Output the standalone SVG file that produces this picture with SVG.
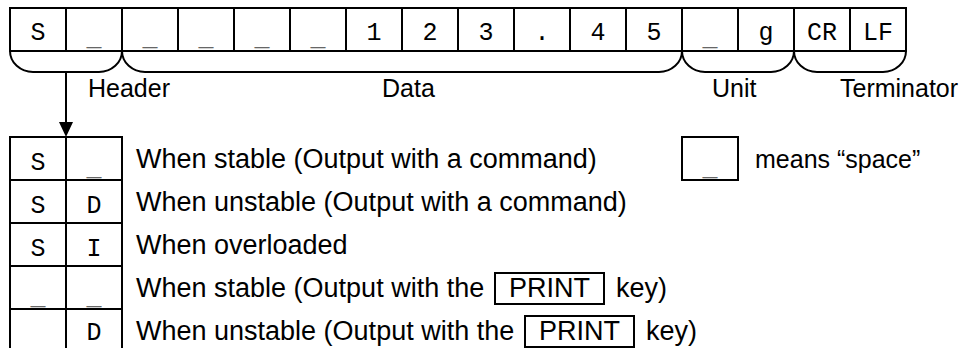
<svg xmlns="http://www.w3.org/2000/svg" width="965" height="348" viewBox="0 0 965 348">
<defs>
<style>
.ln{fill:none;stroke:#000;stroke-width:2}
.m{font-family:"Liberation Mono","Courier New",monospace;font-size:25px;fill:#000;text-anchor:middle}
.u{fill:#666}
.l{font-family:"Liberation Sans",Arial,sans-serif;font-size:25px;fill:#000}
.t{font-family:"Liberation Sans",Arial,sans-serif;font-size:27px;fill:#000}
</style>
</defs>
<rect width="965" height="348" fill="#fff"/>
<g id="format-row">
<rect class="ln" x="10" y="8" width="896" height="43"/>
<path class="ln" d="M66,8V51M122,8V51M178,8V51M234,8V51M290,8V51M346,8V51M402,8V51M458,8V51M514,8V51M570,8V51M626,8V51M682,8V51M738,8V51M794,8V51M850,8V51"/>
<text class="m" y="40"><tspan x="38">S</tspan><tspan x="374">1</tspan><tspan x="430">2</tspan><tspan x="486">3</tspan><tspan x="542">.</tspan><tspan x="598">4</tspan><tspan x="654">5</tspan><tspan x="766">g</tspan><tspan x="822">CR</tspan><tspan x="878">LF</tspan></text>
<text class="m u" y="45"><tspan x="94">_</tspan><tspan x="150">_</tspan><tspan x="206">_</tspan><tspan x="262">_</tspan><tspan x="318">_</tspan><tspan x="710">_</tspan></text>
</g>
<g id="header-brace">
<path class="ln" d="M10,51A23,21 0 0 0 33,72H99A23,21 0 0 0 122,51"/>
<text class="l" x="88" y="97">Header</text>
</g>
<g id="data-brace">
<path class="ln" d="M122,51A23,21 0 0 0 145,72H659A23,21 0 0 0 682,51"/>
<text class="l" x="382" y="97">Data</text>
</g>
<g id="unit-brace">
<path class="ln" d="M682,51A23,21 0 0 0 705,72H771A23,21 0 0 0 794,51"/>
<text class="l" x="712" y="97">Unit</text>
</g>
<g id="terminator-brace">
<path class="ln" d="M794,51A23,21 0 0 0 817,72H883A23,21 0 0 0 906,51"/>
<text class="l" x="840" y="97">Terminator</text>
</g>
<g id="connectors">
<path class="ln" d="M66,72V123"/>
<polygon points="59,122 73,122 66,137" fill="#000"/>
</g>
<g id="header-table">
<rect class="ln" x="10" y="137" width="112" height="220"/>
<path class="ln" d="M66,137V357M10,180H122M10,223H122M10,266H122M10,309H122"/>
<text class="m"><tspan x="38" y="170">S</tspan><tspan x="38" y="213">S</tspan><tspan x="94" y="213">D</tspan><tspan x="38" y="256">S</tspan><tspan x="94" y="256">I</tspan><tspan x="94" y="340">D</tspan></text>
<text class="m u"><tspan x="94" y="175">_</tspan><tspan x="38" y="304">_</tspan><tspan x="94" y="304">_</tspan></text>
</g>
<g id="descriptions">
<text class="t" x="136" y="168">When stable (Output with a command)</text>
<text class="t" x="136" y="211">When unstable (Output with a command)</text>
<text class="t" x="136" y="254">When overloaded</text>
<text class="t" x="136" y="297">When stable (Output with the</text>
<rect class="ln" x="495" y="273" width="109" height="31"/>
<text class="t" x="509" y="297">PRINT</text>
<text class="t" x="616" y="297">key)</text>
<text class="t" x="136" y="340">When unstable (Output with the</text>
<rect class="ln" x="525" y="316" width="109" height="31"/>
<text class="t" x="539" y="340">PRINT</text>
<text class="t" x="646" y="340">key)</text>
</g>
<g id="legend">
<rect class="ln" x="682" y="137" width="56" height="43"/>
<text class="m u" x="710" y="175">_</text>
<text class="l" x="755" y="168">means “space”</text>
</g>
</svg>
